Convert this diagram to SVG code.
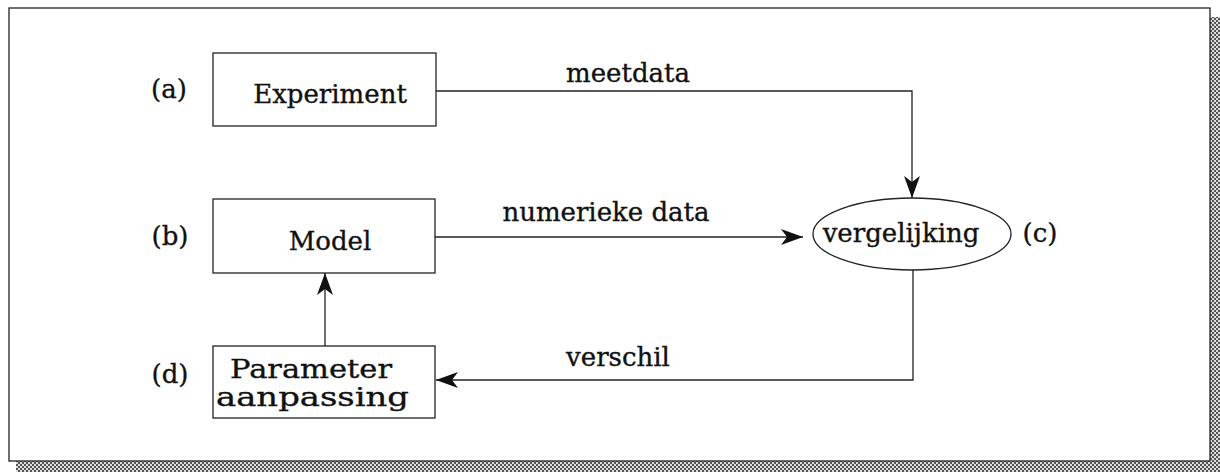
<svg xmlns="http://www.w3.org/2000/svg" width="1220" height="472" viewBox="0 0 1220 472">
<style>
.box{fill:#fff;stroke:#222;stroke-width:1.3}
.ln{fill:none;stroke:#222;stroke-width:1.3}
.t{font-family:"DejaVu Serif","Liberation Serif",serif;font-size:26px;fill:#111;stroke:#111;stroke-width:0.35}
.m{text-anchor:middle}
</style>
<defs>
<pattern id="dots" width="4" height="4" patternUnits="userSpaceOnUse">
<rect width="4" height="4" fill="#ddd"/>
<rect x="0" y="0" width="2" height="2" fill="#555"/>
<rect x="2" y="2" width="2" height="2" fill="#555"/>
</pattern>
<marker id="arr" viewBox="0 0 22 16" refX="22" refY="8" markerWidth="22" markerHeight="16" markerUnits="userSpaceOnUse" orient="auto">
<path d="M0,0 L22,8 L0,16 L6,8 Z" fill="#111"/>
</marker>
</defs>
<rect width="1220" height="472" fill="#fff"/>
<rect x="1210" y="17" width="10" height="455" fill="url(#dots)"/>
<rect x="16" y="461" width="1204" height="11" fill="url(#dots)"/>
<rect x="9" y="8" width="1201" height="453" fill="#fff" stroke="#222" stroke-width="1.3"/>
<g id="connectors">
<polyline class="ln" points="436,91 912,91 912,198" marker-end="url(#arr)"/>
<line class="ln" x1="435" y1="237" x2="803" y2="237" marker-end="url(#arr)"/>
<polyline class="ln" points="913,270 913,380 436,380" marker-end="url(#arr)"/>
<line class="ln" x1="325" y1="346" x2="325" y2="273" marker-end="url(#arr)"/>
<text class="t m" x="628" y="82">meetdata</text>
<text class="t m" x="606" y="221">numerieke data</text>
<text class="t m" x="618" y="366">verschil</text>
</g>
<g id="experiment">
<rect class="box" x="213" y="53" width="223" height="73"/>
<text class="t m" x="330" y="103">Experiment</text>
<text class="t m" x="169" y="98">(a)</text>
</g>
<g id="model">
<rect class="box" x="213" y="199" width="222" height="74"/>
<text class="t m" x="330" y="250">Model</text>
<text class="t m" x="170" y="245">(b)</text>
</g>
<g id="vergelijking">
<ellipse class="box" cx="912" cy="234" rx="99" ry="36"/>
<text class="t m" x="901" y="242">vergelijking</text>
<text class="t m" x="1040" y="242">(c)</text>
</g>
<g id="parameter">
<rect class="box" x="213" y="346" width="222" height="72"/>
<text class="t" x="230" y="378" font-size="27" textLength="162" lengthAdjust="spacingAndGlyphs">Parameter</text>
<text class="t" x="216" y="406" font-size="27" textLength="193" lengthAdjust="spacingAndGlyphs">aanpassing</text>
<text class="t m" x="170" y="383">(d)</text>
</g>
</svg>
